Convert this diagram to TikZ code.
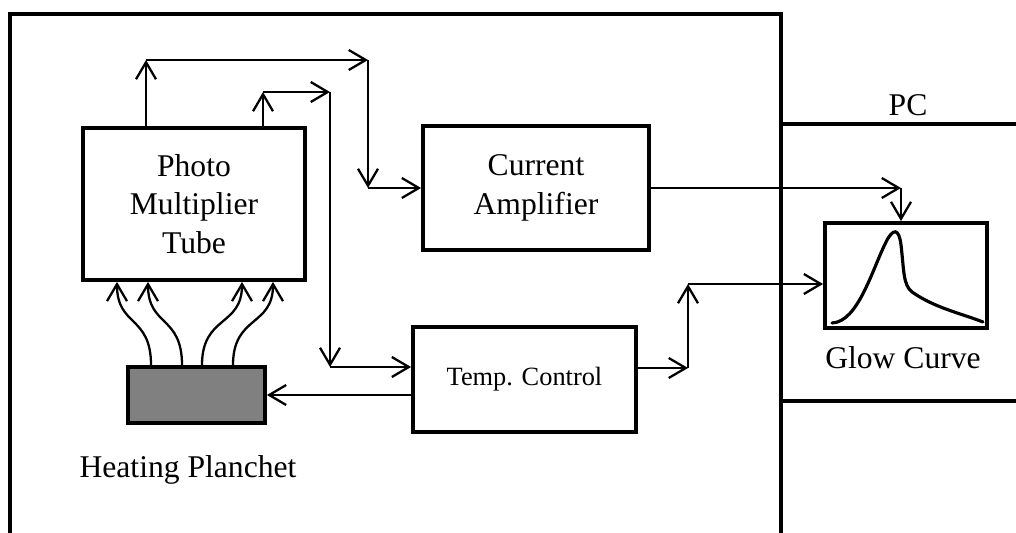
\documentclass[tikz,border=0pt]{standalone}
\usepackage{fontspec}
\setmainfont{Liberation Serif}
\usetikzlibrary{positioning, arrows.meta, calc}

\begin{document}
\begin{tikzpicture}[
  x=0.02cm, y=-0.02cm,
  block/.style={draw, line width=2.2pt, inner sep=0pt, align=center,
    font=\fontsize{18}{22}\selectfont},
  txt/.style={inner sep=0pt, font=\fontsize{18}{22}\selectfont},
  flow/.style={-{Straight Barb[length=3.4mm, width=4mm]}, line width=1.3pt},
  frame/.style={line width=2pt},
  curve/.style={line width=1.8pt, line cap=round},
]

% ── Canvas ──────────────────────────────────────────────
\useasboundingbox (0,0) rectangle (1016,533);

% ── Enclosure and PC ────────────────────────────────────
\draw[frame] (10,533) -- (10,14) -- (781,14) -- (781,533);
\draw[frame] (781,124) -- (1016,124);
\draw[frame] (781,401) -- (1016,401);
\node[txt] (pc) at (908,105) {PC};

% ── Blocks ──────────────────────────────────────────────
\node[block, minimum width=4.44cm, minimum height=3.04cm]
  (pmt) at (194,204) {Photo\\Multiplier\\Tube};
\node[block, minimum width=4.52cm, minimum height=2.48cm]
  (amp) at (536,188) {Current\\Amplifier};
\node[block, minimum width=4.46cm, minimum height=2.1cm,
  font=\fontsize{15}{18}\selectfont]
  (temp) at (524.5,379.5) {Temp. Control};
\node[block, fill=black!50, minimum width=2.74cm, minimum height=1.12cm]
  (heat) at (196.5,395) {};
\node[block, minimum width=3.24cm, minimum height=2.1cm]
  (glow) at (906,275.5) {};

\node[txt] (heatlabel) at (188,470) {Heating Planchet};
\node[txt] (glowlabel) at (903,358) {Glow Curve};

% glow curve trace
\draw[curve] (832,323) .. controls (858,322) and (872,270) .. (886,242)
  .. controls (893,228) and (899,228) .. (901,245)
  .. controls (904,270) and (903,285) .. (912,292)
  .. controls (935,308) and (960,313) .. (983,322);

% ── Routing points ──────────────────────────────────────
\coordinate (a1) at (146,60);
\coordinate (a2) at (368,60);
\coordinate (a3) at (368,188);
\coordinate (b1) at (263,92);
\coordinate (b2) at (330,92);
\coordinate (b3) at (330,367);
\coordinate (d1) at (688,368);
\coordinate (d2) at (688,284);
\coordinate (e1) at (901,188);

% PMT -> amplifier
\draw[flow] (pmt.north -| a1) -- (a1);
\draw[flow] (a1) -- (a2);
\draw[flow] (a2) -- (a3);
\draw[flow] (a3) -- (amp.west);

% PMT -> temperature control
\draw[flow] (pmt.north -| b1) -- (b1);
\draw[flow] (b1) -- (b2);
\draw[flow] (b2) -- (b3);
\draw[flow] (b3) -- (temp.west |- b3);

% temperature control -> planchet
\draw[flow] (temp.west |- heat.east) -- (heat.east);

% temperature control -> PC
\draw[flow] (temp.east |- d1) -- (d1);
\draw[flow] (d1) -- (d2);
\draw[flow] (d2) -- (glow.west |- d2);

% amplifier -> PC
\draw[flow] (amp.east) -- (e1);
\draw[flow] (e1) -- (e1 |- glow.north);

% ── Light from planchet ─────────────────────────────────
\foreach \i/\f/\t in {1/151/117, 2/182/148, 3/202/242, 4/233/273} {
  \coordinate (s\i) at (\f,0);
  \coordinate (t\i) at (\t,0);
  \draw[flow] (heat.north -| s\i) .. controls +(0,-50) and +(0,45)
    .. (pmt.south -| t\i);
}

\end{tikzpicture}
\end{document}
